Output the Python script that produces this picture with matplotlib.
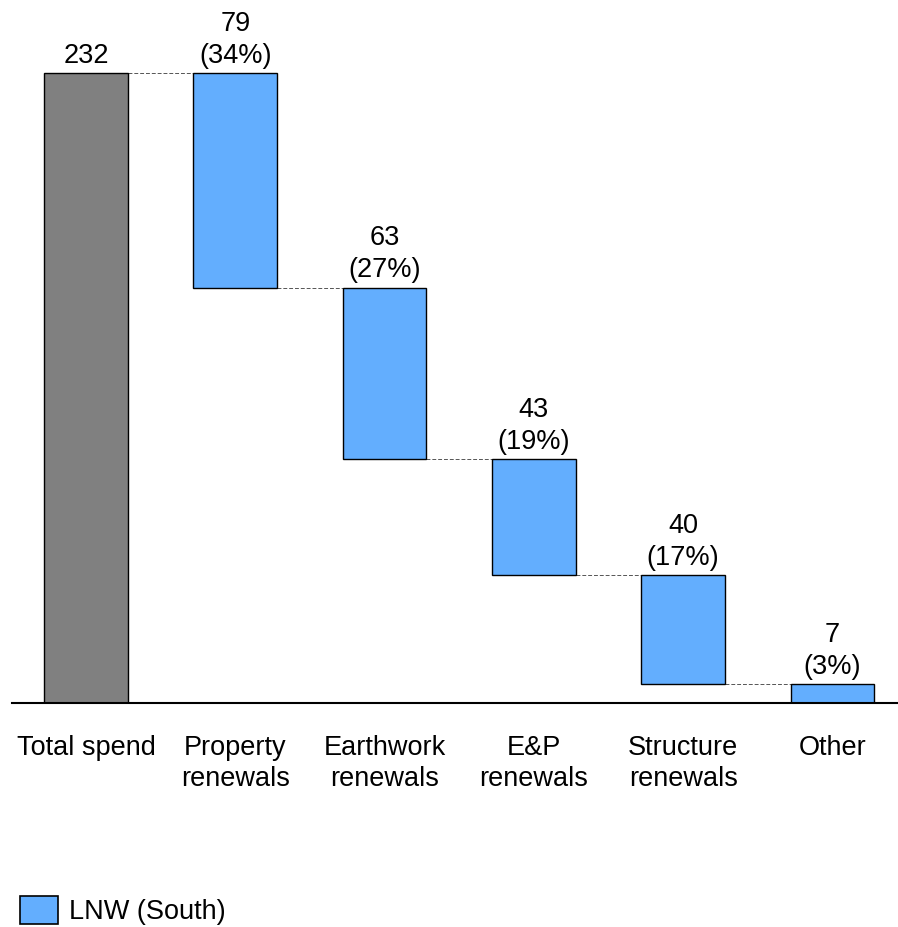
import matplotlib.pyplot as plt
from matplotlib.patches import Patch

plt.rcParams['font.family'] = ['Liberation Sans', 'DejaVu Sans']

# spend breakdown (waterfall)
categories = ["Total spend", "Property\nrenewals", "Earthwork\nrenewals",
              "E&P\nrenewals", "Structure\nrenewals", "Other"]
total = 232
parts = [79, 63, 43, 40, 7]

grey = "#808080"
blue = "#63aefe"
fs = 19.5

fig = plt.figure(figsize=(8.98, 9.27), dpi=100)
ax = fig.add_axes([12 / 898, 1 - 703 / 927, 1 - 12 / 898, 703 / 927])

w = 0.56
# total bar
ax.bar(0, total, width=w, color=grey, edgecolor="black", linewidth=1, zorder=2)
ax.text(0, total + 1.5, str(total), ha="center", va="bottom", fontsize=fs)

# floating bars
level = total
for i, v in enumerate(parts, start=1):
    bottom = level - v
    ax.bar(i, v, bottom=bottom, width=w, color=blue, edgecolor="black",
           linewidth=1, zorder=2)
    pct = round(v / total * 100)
    ax.text(i, level + 1.5, f"{v}\n({pct}%)", ha="center", va="bottom",
            fontsize=fs, linespacing=1.3)
    # connector to previous bar
    ax.plot([i - 1 + w / 2, i - w / 2], [level, level], color="#555555",
            linestyle=(0, (4, 2)), linewidth=0.7, zorder=1)
    level = bottom

ax.set_xlim(-0.496, 5.44)
ax.set_ylim(0, 703 / (630 / total))

for s in ["top", "right", "left"]:
    ax.spines[s].set_visible(False)
ax.spines["bottom"].set_linewidth(1.5)
ax.set_yticks([])
ax.set_xticks(range(len(categories)))
ax.set_xticklabels(categories, fontsize=fs, linespacing=1.27)
ax.tick_params(axis="x", length=0, pad=23)

fig.legend(handles=[Patch(facecolor=blue, edgecolor="black", linewidth=1.2,
                          label="LNW (South)")],
           loc="lower left", bbox_to_anchor=(20 / 898, 2 / 927), frameon=False,
           fontsize=fs, handlelength=1.4, handleheight=1.2, handletextpad=0.4,
           borderaxespad=0, borderpad=0)

fig.savefig("out.png", dpi=100)
